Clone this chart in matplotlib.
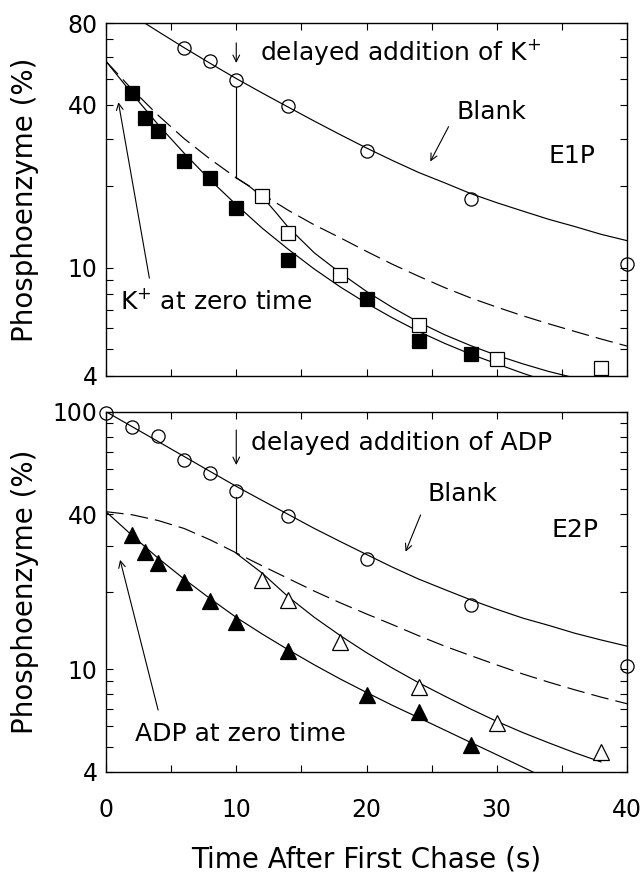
import matplotlib
matplotlib.use("Agg")
import matplotlib.pyplot as plt
from matplotlib.ticker import FixedLocator, FixedFormatter, NullFormatter

plt.rcParams['font.family'] = ['DejaVu Sans']
plt.rcParams['mathtext.fontset'] = 'dejavusans'

# ---------------- data: upper panel (E1P) ----------------
e1_blank_t = [6, 8, 10, 14, 20, 28, 40]
e1_blank_v = [64.7, 58.2, 49.4, 39.7, 26.9, 17.9, 10.3]
e1_k0_t = [2, 3, 4, 6, 8, 10, 14, 20, 24, 28]
e1_k0_v = [44.4, 35.7, 32.1, 24.7, 21.5, 16.6, 10.65, 7.7, 5.36, 4.81]
e1_kdel_t = [12, 14, 18, 24, 30, 38]
e1_kdel_v = [18.35, 13.45, 9.43, 6.17, 4.62, 4.26]

# fitted curves
e1_fit_blank_t = [3, 4, 6, 8, 10, 12, 14, 16, 18, 20, 22, 24, 26, 28, 30, 32, 34, 36, 38, 40]
e1_fit_blank_v = [80.0, 74.6, 65.0, 56.9, 50.0, 44.2, 39.2, 34.8, 31.0, 27.7, 24.9, 22.5,
                  20.6, 18.8, 17.4, 16.2, 15.1, 14.2, 13.3, 12.6]
e1_fit_dash_t = [0, 2, 4, 6, 8, 10, 12, 14, 16, 18, 20, 22, 24, 26, 28, 30, 32, 34, 36, 38, 40]
e1_fit_dash_v = [57.9, 45.6, 36.6, 30.0, 25.2, 21.5, 18.7, 16.3, 14.4, 12.9, 11.5, 10.3,
                 9.31, 8.45, 7.74, 7.16, 6.65, 6.21, 5.82, 5.46, 5.14]
e1_fit_k0_t = [0, 2, 4, 6, 8, 10, 12, 14, 16, 18, 20, 22, 24, 26, 28, 30, 32, 34]
e1_fit_k0_v = [57.9, 44.0, 33.8, 26.5, 21.1, 17.1, 14.0, 11.7, 9.89, 8.49, 7.40, 6.53,
               5.82, 5.26, 4.80, 4.42, 4.08, 3.79]
e1_fit_kdel_t = [10, 11, 12, 13, 14, 16, 18, 20, 22, 24, 26, 28, 30, 32, 34, 36]
e1_fit_kdel_v = [21.5, 20.0, 18.3, 16.1, 14.1, 11.35, 9.57, 8.18, 7.13, 6.30, 5.66, 5.16,
                 4.75, 4.42, 4.14, 3.92]
e1_drop_v = [46.5, 21.5]

# ---------------- data: lower panel (E2P) ----------------
e2_blank_t = [0, 2, 4, 6, 8, 10, 14, 20, 28, 40]
e2_blank_v = [99, 87, 80.5, 64.9, 58.0, 49.4, 39.4, 26.7, 17.8, 10.3]
e2_adp0_t = [2, 3, 4, 6, 8, 10, 14, 20, 24, 28]
e2_adp0_v = [33.2, 28.6, 25.9, 21.9, 18.4, 15.3, 11.8, 7.95, 6.84, 5.08]
e2_adpdel_t = [12, 14, 18, 24, 30, 38]
e2_adpdel_v = [22.2, 18.6, 12.8, 8.56, 6.2, 4.79]

e2_fit_blank_t = [0, 2, 4, 6, 8, 10, 12, 14, 16, 18, 20, 22, 24, 26, 28, 30, 32, 34, 36, 38, 40]
e2_fit_blank_v = [100, 87.5, 76.6, 67.0, 58.6, 51.3, 45.2, 39.9, 35.2, 31.3, 27.9, 24.9,
                  22.4, 20.4, 18.6, 17.1, 15.8, 14.8, 13.8, 13.0, 12.3]
e2_fit_dash_t = [0, 2, 4, 6, 8, 10, 12, 14, 16, 18, 20, 22, 24, 26, 28, 30, 32, 34, 36, 38, 40]
e2_fit_dash_v = [40.9, 39.8, 37.8, 35.2, 31.8, 28.3, 25.2, 22.5, 20.1, 18.1, 16.4, 14.9,
                 13.5, 12.3, 11.3, 10.4, 9.59, 8.91, 8.32, 7.80, 7.35]
e2_fit_adp0_t = [0, 2, 4, 6, 8, 10, 12, 14, 16, 18, 20, 22, 24, 26, 28, 30, 32, 34]
e2_fit_adp0_v = [40.9, 33.1, 27.0, 22.4, 18.8, 15.9, 13.7, 11.9, 10.4, 9.16, 8.13, 7.24,
                 6.49, 5.81, 5.20, 4.66, 4.17, 3.73]
e2_fit_adpdel_t = [10, 12, 14, 16, 18, 20, 22, 24, 26, 28, 30, 32, 34, 36, 38]
e2_fit_adpdel_v = [28.2, 23.6, 19.1, 15.9, 13.5, 11.6, 10.1, 8.87, 7.87, 7.01, 6.28, 5.68,
                   5.18, 4.74, 4.37]
e2_drop_v = [46.8, 28.2]

delay_t = 10

x_major = [0, 10, 20, 30, 40]
x_minor = [5, 15, 25, 35]
e1_y_major = [4, 10, 40, 80]
e1_y_minor = [5, 6, 7, 8, 9, 20, 30, 50, 60, 70]
e2_y_major = [4, 10, 40, 100]
e2_y_minor = [5, 6, 7, 8, 9, 20, 30, 50, 60, 70, 80, 90]

# ---------------- figure ----------------
fig = plt.figure(figsize=(6.44, 8.72), dpi=100)
ax1 = fig.add_axes([0.1646, 0.5693, 0.8090, 0.4040])
ax2 = fig.add_axes([0.1646, 0.1149, 0.8090, 0.4130])

LW = 0.85
TICK_FS = 17
TXT_FS = 18
LAB_FS = 20
ms_c = 9.5
ms_s = 10.5
ms_t = 11.0
DASH = (15, 6)


def style_axes(ax, ylo, yhi, ymaj, ymin, show_x):
    ax.set_yscale('log')
    ax.set_xlim(0, 40)
    ax.set_ylim(ylo, yhi)
    ax.xaxis.set_major_locator(FixedLocator(x_major))
    ax.xaxis.set_minor_locator(FixedLocator(x_minor))
    ax.yaxis.set_major_locator(FixedLocator(ymaj))
    ax.yaxis.set_major_formatter(FixedFormatter([str(v) for v in ymaj]))
    ax.yaxis.set_minor_locator(FixedLocator(ymin))
    ax.yaxis.set_minor_formatter(NullFormatter())
    ax.tick_params(which='both', direction='in', top=True, right=True,
                   length=5, width=0.8, labelsize=TICK_FS)
    ax.tick_params(axis='y', which='both', pad=6)
    ax.tick_params(axis='x', which='both', pad=19, labelbottom=show_x)
    for sp in ax.spines.values():
        sp.set_linewidth(1.0)


style_axes(ax1, 4, 80, e1_y_major, e1_y_minor, False)
style_axes(ax2, 4, 100, e2_y_major, e2_y_minor, True)

# ---- upper panel ----
ax1.plot(e1_fit_blank_t, e1_fit_blank_v, color='black', lw=LW)
ax1.plot(e1_fit_dash_t, e1_fit_dash_v, color='black', lw=LW, dashes=DASH)
ax1.plot(e1_fit_k0_t, e1_fit_k0_v, color='black', lw=LW)
ax1.plot(e1_fit_kdel_t, e1_fit_kdel_v, color='black', lw=LW)
ax1.plot([delay_t, delay_t], e1_drop_v, color='black', lw=LW)

ax1.plot(e1_blank_t, e1_blank_v, 'o', ms=ms_c, mfc='none', mec='black', mew=0.9, clip_on=False)
ax1.plot(e1_k0_t, e1_k0_v, 's', ms=ms_s, mfc='black', mec='black', mew=0.9, clip_on=False)
ax1.plot(e1_kdel_t, e1_kdel_v, 's', ms=ms_s, mfc='white', mec='black', mew=0.9, clip_on=False)

arrow = dict(arrowstyle='->', lw=0.8, color='black', shrinkA=0, shrinkB=0,
             mutation_scale=12)
ax1.annotate('', xy=(10, 57.1), xytext=(10, 67.7), arrowprops=arrow)
ax1.text(11.85, 62.7, r'delayed addition of K$^{+}$', fontsize=TXT_FS, ha='left', va='center')
ax1.text(29.57, 37.7, 'Blank', fontsize=TXT_FS, ha='center', va='center')
ax1.annotate('', xy=(24.9, 24.7), xytext=(26.3, 33.2), arrowprops=arrow)
ax1.text(35.8, 25.9, 'E1P', fontsize=TXT_FS, ha='center', va='center')
ax1.text(1.08, 7.53, r'K$^{+}$ at zero time', fontsize=TXT_FS, ha='left', va='center')
ax1.annotate('', xy=(0.95, 40.9), xytext=(3.33, 9.16), arrowprops=arrow)

# ---- lower panel ----
ax2.plot(e2_fit_blank_t, e2_fit_blank_v, color='black', lw=LW)
ax2.plot(e2_fit_dash_t, e2_fit_dash_v, color='black', lw=LW, dashes=DASH)
ax2.plot(e2_fit_adp0_t, e2_fit_adp0_v, color='black', lw=LW)
ax2.plot(e2_fit_adpdel_t, e2_fit_adpdel_v, color='black', lw=LW)
ax2.plot([delay_t, delay_t], e2_drop_v, color='black', lw=LW)

ax2.plot(e2_blank_t, e2_blank_v, 'o', ms=ms_c, mfc='none', mec='black', mew=0.9, clip_on=False)
ax2.plot(e2_adp0_t, e2_adp0_v, '^', ms=ms_t, mfc='black', mec='black', mew=0.9, clip_on=False)
ax2.plot(e2_adpdel_t, e2_adpdel_v, '^', ms=ms_t, mfc='white', mec='black', mew=0.9, clip_on=False)

ax2.annotate('', xy=(10, 62.1), xytext=(10, 84.9), arrowprops=arrow)
ax2.text(11.1, 75.6, 'delayed addition of ADP', fontsize=TXT_FS, ha='left', va='center')
ax2.text(27.4, 47.8, 'Blank', fontsize=TXT_FS, ha='center', va='center')
ax2.annotate('', xy=(23.0, 28.6), xytext=(24.15, 39.7), arrowprops=arrow)
ax2.text(36.0, 34.7, 'E2P', fontsize=TXT_FS, ha='center', va='center')
ax2.text(2.2, 5.61, 'ADP at zero time', fontsize=TXT_FS, ha='left', va='center')
ax2.annotate('', xy=(1.08, 26.6), xytext=(4.0, 6.95), arrowprops=arrow)

# ---- labels ----
for ax in (ax1, ax2):
    ax.set_ylabel('Phosphoenzyme (%)', fontsize=LAB_FS)
    ax.yaxis.set_label_coords(-0.128, 0.5)
ax2.set_xlabel('Time After First Chase (s)', fontsize=LAB_FS)
ax2.xaxis.set_label_coords(0.5, -0.205)

fig.savefig('out.png', dpi=100)
